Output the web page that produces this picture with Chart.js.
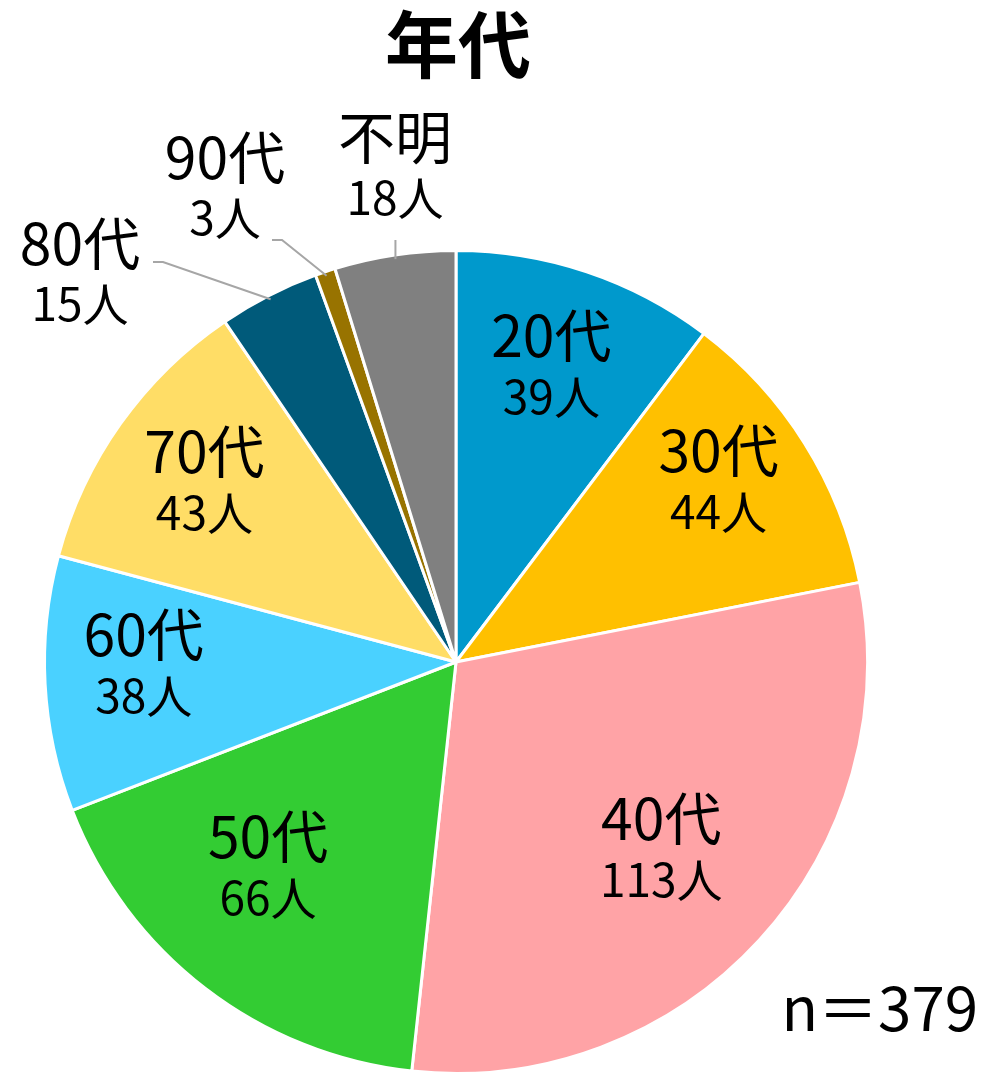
<!DOCTYPE html>
<html><head><meta charset="utf-8">
<script src="https://cdn.jsdelivr.net/npm/chart.js@4"></script>
<style>html,body{margin:0;padding:0;background:#fff}#wrap{width:1000px;height:1075px;position:relative}</style>
</head><body><div id="wrap"><canvas id="c" width="1000" height="1075"></canvas></div>
<script>
const categories = ["20代","30代","40代","50代","60代","70代","80代","90代","不明"];
const counts = [39,44,113,66,38,43,15,3,18];
const countLabels = ["39人","44人","113人","66人","38人","43人","15人","3人","18人"];
const colors = ["#0099CC","#FFC000","#FFA3A6","#33CC33","#4AD1FF","#FFDD66","#005A7A","#987300","#808080"];
const titleText = "年代";
const noteText = "n＝379";
const FONT = '"Noto Sans CJK JP","Noto Sans",sans-serif';

const labelStyle = [
  {r:0.76,dx:-4,dy:0},{r:0.77,dx:-6,dy:-13},{r:0.67,dx:2,dy:0},{r:0.67,dx:-20,dy:-14},{r:0.76,dx:0,dy:-14},{r:0.75,dx:0,dy:-2},
  {out:true, tx:80, ty:273, lx:[153,163], ly:262},
  {out:true, tx:225, ty:187, lx:[272,282], ly:240},
  {out:true, tx:395, ty:167, vert:true}
];

const labelPlugin = {
  id:'labels',
  afterDraw(chart){
    const ctx = chart.ctx;
    const meta = chart.getDatasetMeta(0);
    ctx.save();
    ctx.textAlign='center';
    ctx.textBaseline='middle';
    ctx.fillStyle='#000';
    ctx.font = 'bold 73px '+FONT;
    ctx.fillText(titleText, 458, 44);
    meta.data.forEach((arc,i)=>{
      const p = arc.getProps(['x','y','startAngle','endAngle','outerRadius'],true);
      const mid = (p.startAngle+p.endAngle)/2;
      const st = labelStyle[i];
      let cx, cy;
      if(!st.out){
        cx = p.x + Math.cos(mid)*p.outerRadius*st.r + st.dx;
        cy = p.y + Math.sin(mid)*p.outerRadius*st.r + st.dy;
      } else {
        cx = st.tx; cy = st.ty;
        const ex = p.x + Math.cos(mid)*p.outerRadius*0.99;
        const ey = p.y + Math.sin(mid)*p.outerRadius*0.99;
        ctx.strokeStyle='#A6A6A6';
        ctx.lineWidth=2;
        ctx.beginPath();
        if(st.vert){
          ctx.moveTo(ex, cy+73); ctx.lineTo(ex, ey);
        } else {
          ctx.moveTo(st.lx[0], st.ly); ctx.lineTo(st.lx[1], st.ly); ctx.lineTo(ex, ey);
        }
        ctx.stroke();
      }
      ctx.fillStyle='#000';
      ctx.font = '57px '+FONT;
      ctx.fillText(categories[i], cx, cy-30);
      ctx.font = '46px '+FONT;
      ctx.fillText(countLabels[i], cx, cy+31);
    });
    ctx.font = '60px '+FONT;
    ctx.textAlign='right';
    ctx.fillText(noteText, 978, 1008);
    ctx.restore();
  }
};

new Chart(document.getElementById('c'),{
  type:'pie',
  data:{labels:categories, datasets:[{data:counts, backgroundColor:colors, borderColor:'#fff', borderWidth:3}]},
  options:{
    responsive:false, animation:false,
    layout:{padding:{left:42,right:130,top:249,bottom:0}},
    plugins:{legend:{display:false},title:{display:false},tooltip:{enabled:false}}
  },
  plugins:[labelPlugin]
});
</script></body></html>
